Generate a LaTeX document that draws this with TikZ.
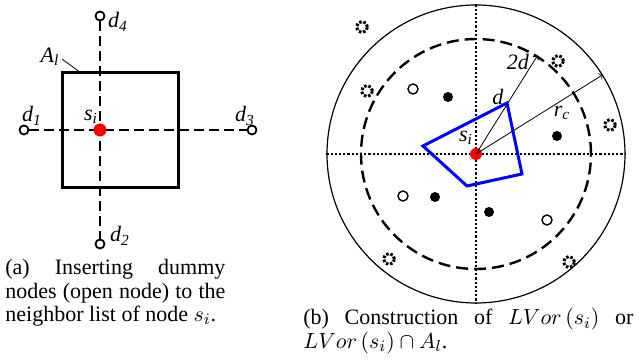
\documentclass[tikz,border=0pt]{standalone}
\usepackage{fontspec}
\setmainfont{Liberation Serif}
\newcommand{\itsub}[2]{\textit{#1}\textsubscript{\textit{#2}}}

\begin{document}
\begin{tikzpicture}[
x=0.5pt, y=-0.5pt,
every node/.style={inner sep=0pt,font=\fontsize{11}{11.7}\selectfont},
dummy/.style={circle,draw,line width=0.9pt,minimum size=4.5pt},
site/.style={circle,fill=red,minimum size=6.5pt},
axis/.style={line width=1.2pt,dash pattern=on 5pt off 2.5pt},
dotline/.style={line width=1.4pt,dash pattern=on 1.1pt off 1pt},
nbr/.style={circle,fill=black,minimum size=5pt},
vacant/.style={circle,draw,line width=0.7pt,minimum size=5pt},
ghost/.style={circle,draw,line width=1.5pt,dash pattern=on 1.3pt off 0.9pt,minimum size=5.5pt},
subcap/.style={anchor=north west,align=justify}
]
\useasboundingbox (0,0) rectangle (639,363);
% (a) area A_l with dummy nodes
\draw[line width=1.5pt] (62,73) rectangle (178,188);
\node[dummy] (d1) at (24,130) {};
\node[dummy] (d2) at (100,244) {};
\node[dummy] (d3) at (252,130) {};
\node[dummy] (d4) at (100,16) {};
\draw[axis] (d1) -- (d3);
\draw[axis] (d4) -- (d2);
\node[site] (s) at (100,130) {};
\node (l1) at (32,116) {\itsub{d}{1}};
\node (l2) at (120,236) {\itsub{d}{2}};
\node (l3) at (245,116) {\itsub{d}{3}};
\node (l4) at (118,22) {\itsub{d}{4}};
\node (ls) at (91,117) {\itsub{s}{i}};
\node (la) at (50,57) {\itsub{A}{l}};
\coordinate (acorner) at (81,73);
\draw[line width=0.4pt] (62,59) -- (acorner);
\node[subcap,text width=110pt] (capa) at (5,259)
  {(a) Inserting dummy nodes (open node) to the neighbor list of node $s_i$.};
% (b) local Voronoi cell
\node[circle,draw,line width=0.6pt,minimum size=149pt] (rc) at (476,154) {};
\node[circle,draw,line width=1.2pt,dash pattern=on 6pt off 3pt,minimum size=115pt] (twod) at (476,154) {};
\draw[dotline] (rc.west) -- (rc.east);
\draw[dotline] (rc.north) -- (rc.south);
\coordinate (v1) at (507,103);
\coordinate (v2) at (423,146);
\coordinate (v3) at (467,186);
\coordinate (v4) at (522,174);
\draw[blue,line width=1.5pt,line join=miter] (v1) -- (v2) -- (v3) -- (v4) -- cycle;
\node[site,minimum size=6pt] (si) at (476,154) {};
\draw[->,line width=0.4pt] (si.center) -- (twod.58);
\draw[->,line width=0.4pt] (si.center) -- (rc.32);
\node (l2d) at (518,62) {\textit{2d}};
\node (ld) at (498,97) {\textit{d}};
\node (lrc) at (562,113) {\itsub{r}{c}};
\node (lsi) at (466,138) {\itsub{s}{i}};
% neighbors
\node[nbr] (n1) at (448,97) {};
\node[nbr] (n2) at (557,136) {};
\node[nbr] (n3) at (435,197) {};
\node[nbr] (n4) at (489,212) {};
\node[vacant] (o1) at (413,89) {};
\node[vacant] (o2) at (403,196) {};
\node[vacant] (o3) at (547,220) {};
\node[ghost] (g1) at (362,27) {};
\node[ghost] (g2) at (558,61) {};
\node[ghost] (g3) at (367,91) {};
\node[ghost] (g4) at (610,125) {};
\node[ghost] (g5) at (389,259) {};
\node[ghost] (g6) at (569,262) {};
\node[subcap,text width=165pt] (capb) at (303,308)
  {(b) Construction of $LVor\left(s_i\right)$ or $LVor\left(s_i\right)\cap A_l$.};
\end{tikzpicture}
\end{document}
